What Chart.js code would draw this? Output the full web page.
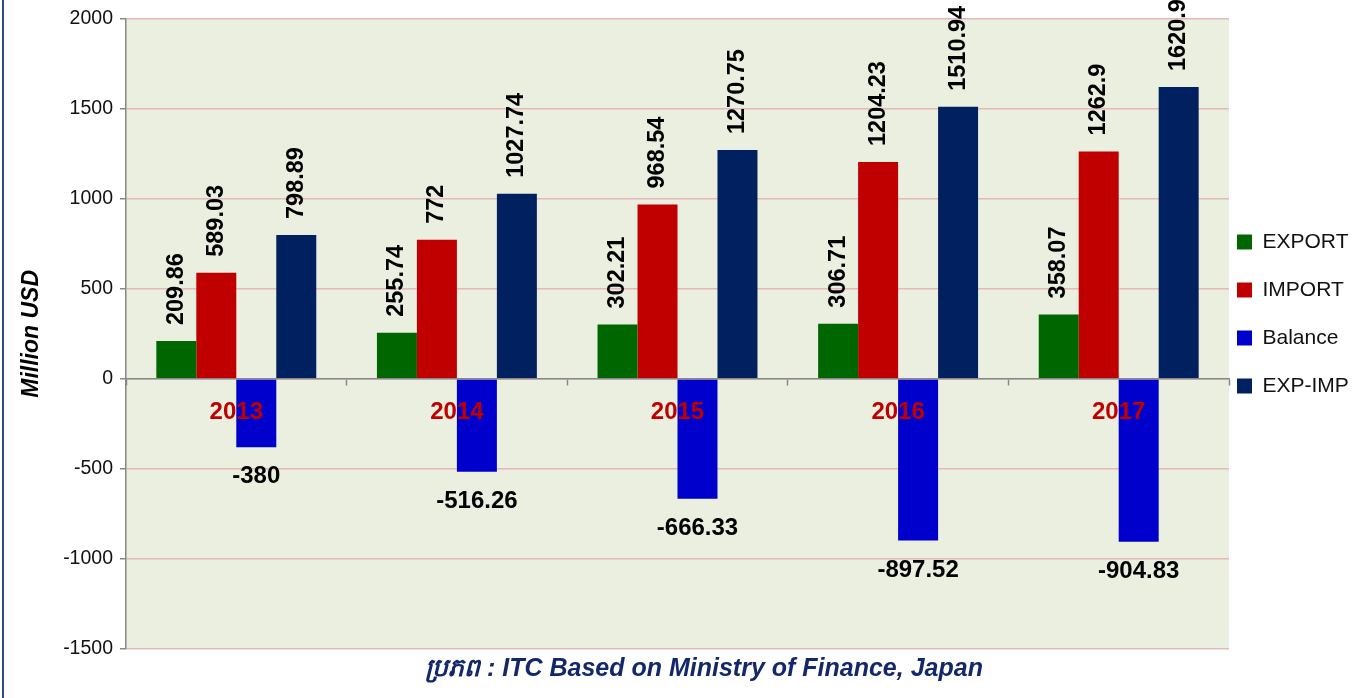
<!DOCTYPE html>
<html>
<head>
<meta charset="utf-8">
<script src="https://cdn.jsdelivr.net/npm/chart.js@4"></script>
<style>
  html, body { margin: 0; padding: 0; background: #ffffff; }
  #wrap { position: relative; width: 1355px; height: 698px; overflow: hidden; }
  #frame { position: absolute; left: 2px; top: 0; width: 2px; height: 698px; background: #2E4A8A; }
  #caption { position: absolute; left: 0; width: 1408px; top: 652px; text-align: center;
    font: italic bold 25px "Liberation Sans", "Noto Sans", sans-serif; color: #13286B; white-space: nowrap; }
  canvas { position: absolute; left: 0; top: 0; }
</style>
</head>
<body>
<div id="wrap">
  <canvas id="c" width="1355" height="698"></canvas>
  <div id="frame"></div>
  <div id="caption">ប្រភព : ITC Based on Ministry of Finance, Japan</div>
</div>
<script>
const years = ['2013', '2014', '2015', '2016', '2017'];
const exportVals = [209.86, 255.74, 302.21, 306.71, 358.07];
const importVals = [589.03, 772, 968.54, 1204.23, 1262.9];
const balanceVals = [-380, -516.26, -666.33, -897.52, -904.83];
const expImpVals = [798.89, 1027.74, 1270.75, 1510.94, 1620.97];
const seriesNames = ['EXPORT', 'IMPORT', 'Balance', 'EXP-IMP'];
const seriesColors = ['#006600', '#C00000', '#0000CC', '#002060'];
const yMin = -1500, yMax = 2000, yStep = 500;
const yTitle = 'Million USD';

const plotBg = {
  id: 'plotBg',
  beforeDraw(chart) {
    const {ctx, chartArea: a} = chart;
    ctx.save();
    ctx.fillStyle = '#EBEFDF';
    ctx.fillRect(a.left, a.top, a.right - a.left, a.bottom - a.top);
    ctx.restore();
  }
};

const valueLabels = {
  id: 'valueLabels',
  afterDatasetsDraw(chart) {
    const ctx = chart.ctx;
    chart.data.datasets.forEach((ds, di) => {
      const meta = chart.getDatasetMeta(di);
      meta.data.forEach((bar, i) => {
        const v = ds.data[i];
        const txt = String(v);
        ctx.save();
        ctx.fillStyle = '#000000';
        if (v >= 0) {
          ctx.font = 'bold 23.5px "Liberation Sans", Arial, sans-serif';
          ctx.translate(bar.x, bar.y - 16);
          ctx.rotate(-Math.PI / 2);
          ctx.textAlign = 'left';
          ctx.textBaseline = 'middle';
          ctx.fillText(txt, 0, 0);
        } else {
          ctx.font = 'bold 24px "Liberation Sans", Arial, sans-serif';
          ctx.textAlign = 'center';
          ctx.textBaseline = 'middle';
          ctx.fillText(txt, bar.x, bar.y + 29.5);
        }
        ctx.restore();
      });
    });
  }
};

const seriesData = [exportVals, importVals, balanceVals, expImpVals];

new Chart(document.getElementById('c'), {
  type: 'bar',
  data: {
    labels: years,
    datasets: seriesNames.map((n, k) => ({
      label: n,
      data: seriesData[k],
      backgroundColor: seriesColors[k],
      borderWidth: 0,
      categoryPercentage: 0.725,
      barPercentage: 1
    }))
  },
  plugins: [plotBg, valueLabels],
  options: {
    responsive: false,
    animation: false,
    events: [],
    layout: { padding: { top: 16, bottom: 49, left: 0, right: 0 } },
    plugins: {
      tooltip: { enabled: false },
      legend: {
        position: 'right',
        align: 'start',
        maxWidth: 126,
        title: { display: true, text: '', padding: 0, font: { size: 1, lineHeight: '207.5px' } },
        labels: {
          boxWidth: 15,
          boxHeight: 15,
          padding: 8,
          color: '#111111',
          font: { family: '"Liberation Sans", Arial, sans-serif', size: 21, lineHeight: '40px' },
          generateLabels(chart) {
            return chart.data.datasets.map((ds, i) => ({
              text: [ds.label],
              fillStyle: ds.backgroundColor,
              strokeStyle: ds.backgroundColor,
              fontColor: '#111111',
              lineWidth: 0,
              hidden: false,
              datasetIndex: i
            }));
          }
        }
      }
    },
    scales: {
      x: {
        type: 'category',
        position: { y: 0 },
        offset: true,
        grid: { display: true, drawOnChartArea: false, drawTicks: true, tickLength: 6, tickColor: '#888888', tickWidth: 1.5, offset: true },
        border: { display: true, color: '#888888', width: 1.5, z: 1 },
        ticks: {
          z: 2,
          color: '#C00000',
          padding: 13,
          maxRotation: 0,
          font: { family: '"Liberation Sans", Arial, sans-serif', size: 24, weight: 'bold' }
        }
      },
      y: {
        min: yMin,
        max: yMax,
        afterFit(scale) { scale.width = 126; },
        grid: { color: '#E6B8B7', lineWidth: 1.5, tickLength: 6, tickColor: '#888888', tickWidth: 1.5 },
        border: { display: true, color: '#888888', width: 1.5 },
        ticks: {
          stepSize: yStep,
          padding: 7,
          color: '#111111',
          callback: (v) => String(v),
          font: { family: '"Liberation Sans", Arial, sans-serif', size: 19.5 }
        },
        title: {
          display: true,
          text: yTitle,
          color: '#000000',
          padding: { top: 18, bottom: 0 },
          font: { family: '"Liberation Sans", Arial, sans-serif', size: 23, weight: 'bold', style: 'italic' }
        }
      }
    }
  }
});
</script>
</body>
</html>
